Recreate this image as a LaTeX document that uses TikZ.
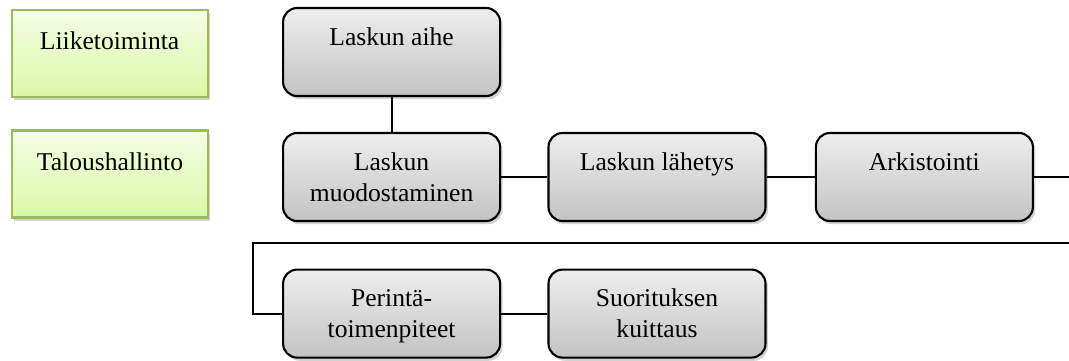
\documentclass[tikz,border=0pt]{standalone}
\usepackage{fontspec}
\setmainfont{Liberation Serif}
\newfontfamily\kirjain{Liberation Serif}
\usetikzlibrary{shadows}
\definecolor{vihrea}{HTML}{9BBB59}
\definecolor{vihreayla}{HTML}{F4FEE6}
\definecolor{vihreaala}{HTML}{D9F8A6}
\definecolor{harmaayla}{HTML}{EEEEEE}
\definecolor{harmaaala}{HTML}{C3C3C3}
\newcommand{\ylos}[2][0.88cm]{\parbox[c][2.1cm][t]{4.8cm}{\centering\rule{0pt}{#1}#2}}

\begin{document}
\begin{tikzpicture}[
		every node/.style={font=\kirjain\fontsize{18.2}{22}\selectfont},
		taso/.style={draw=vihrea, line width=1.5pt, top color=vihreayla, bottom color=vihreaala, minimum width=4.9cm, minimum height=2.175cm, inner sep=0pt, drop shadow={shadow xshift=0.06cm, shadow yshift=-0.08cm, opacity=0.35}},
		vaihe/.style={draw=black, line width=1.5pt, rounded corners=0.35cm, top color=harmaayla, bottom color=harmaaala, minimum width=5.425cm, minimum height=2.2cm, inner sep=0pt, drop shadow={shadow xshift=0.06cm, shadow yshift=-0.08cm, opacity=0.35}},
		yhteys/.style={line width=1.3pt}]
		\useasboundingbox (0,0) rectangle (26.725,9);
		% tasot
		\node[taso] (liike) at (2.74,7.66) {\ylos[0.96cm]{Liiketoiminta}};
		\node[taso] (talous) at (2.75,4.65) {\ylos[0.96cm]{Taloushallinto}};
		% laskutuksen vaiheet
		\node[vaihe] (aihe) at (9.79,7.7) {\ylos{Laskun aihe}};
		\node[vaihe] (muodostus) at (9.79,4.575) {\ylos{Laskun\\muodostaminen}};
		\node[vaihe] (lahetys) at (16.425,4.575) {\ylos{Laskun lähetys}};
		\node[vaihe] (arkisto) at (23.11,4.575) {\ylos{Arkistointi}};
		\node[vaihe] (perinta) at (9.79,1.16) {\ylos{Perintä-\\toimenpiteet}};
		\node[vaihe] (kuittaus) at (16.425,1.16) {\ylos{Suorituksen\\kuittaus}};
		\coordinate (oikea) at (26.725,4.575);
		\coordinate (paluu) at (26.725,2.925);
		\coordinate (vasen) at (6.325,2.925);
		% yhteydet
		\draw[yhteys] (aihe.south) -- (muodostus.north);
		\draw[yhteys] (muodostus) -- (lahetys);
		\draw[yhteys] (lahetys) -- (arkisto);
		\draw[yhteys] (arkisto) -- (oikea);
		\draw[yhteys] (paluu) -- (vasen) |- (perinta);
		\draw[yhteys] (perinta) -- (kuittaus);
	\end{tikzpicture}
\end{document}
